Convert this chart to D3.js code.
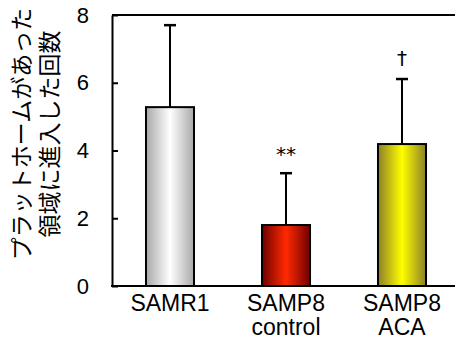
<!DOCTYPE html>
<html>
<head>
<meta charset="utf-8">
<script src="https://cdn.jsdelivr.net/npm/d3@7"></script>
<style>
  html, body { margin: 0; padding: 0; background: #fff; }
  svg { display: block; }
</style>
</head>
<body>
<div id="chart"></div>
<script>
// data
const groups = ['SAMR1', 'SAMP8 control', 'SAMP8 ACA'];
const groupLines = [['SAMR1'], ['SAMP8', 'control'], ['SAMP8', 'ACA']];
const means = [5.28, 1.80, 4.19];
const errors = [2.42, 1.53, 1.92];
const marks = ['', '**', '†'];
const yTicks = [0, 2, 4, 6, 8];
const titleLines = ['プラットホームがあった', '領域に進入した回数'];

const width = 455, height = 339;
const margin = { top: 15, right: -5, bottom: 53, left: 112 };

const svg = d3.select('#chart').append('svg')
  .attr('width', width)
  .attr('height', height);

// horizontal shading for each bar: [edge, centre]
const fills = [['#a8a8a8', '#ffffff'], ['#700000', '#ff2a00'], ['#8c8028', '#ffff00']];
const defs = svg.append('defs');
fills.forEach((f, i) => {
  const g = defs.append('linearGradient').attr('id', 'grad' + i)
    .attr('x1', '0%').attr('x2', '100%').attr('y1', '0%').attr('y2', '0%');
  g.append('stop').attr('offset', '0%').attr('stop-color', f[0]);
  g.append('stop').attr('offset', '50%').attr('stop-color', f[1]);
  g.append('stop').attr('offset', '100%').attr('stop-color', f[0]);
});

const x = d3.scaleBand()
  .domain(groups)
  .range([margin.left, width - margin.right])
  .paddingInner(0.586)
  .paddingOuter(0.293);

const y = d3.scaleLinear()
  .domain([0, 8])
  .range([height - margin.bottom, margin.top]);

const font = '"Liberation Sans", Arial, sans-serif';
const fontSize = 23;

// top frame line
svg.append('line')
  .attr('x1', margin.left).attr('x2', width)
  .attr('y1', y(8)).attr('y2', y(8))
  .attr('stroke', '#000').attr('stroke-width', 2);

// y axis with inward ticks
const yAxis = svg.append('g')
  .attr('transform', `translate(${margin.left},0)`)
  .call(d3.axisLeft(y).tickValues(yTicks).tickSizeInner(-6).tickSizeOuter(0).tickPadding(23));
yAxis.select('.domain').attr('stroke', '#000').attr('stroke-width', 2);
yAxis.selectAll('.tick line').attr('stroke', '#000').attr('stroke-width', 2);
yAxis.selectAll('.tick text')
  .attr('font-family', font).attr('font-size', 22).attr('fill', '#000');

// error bars
const errG = svg.append('g');
groups.forEach((g, i) => {
  const cx = x(g) + x.bandwidth() / 2;
  errG.append('line')
    .attr('x1', cx).attr('x2', cx)
    .attr('y1', y(means[i])).attr('y2', y(means[i] + errors[i]))
    .attr('stroke', '#000').attr('stroke-width', 2);
  errG.append('line')
    .attr('x1', cx - 6).attr('x2', cx + 6)
    .attr('y1', y(means[i] + errors[i])).attr('y2', y(means[i] + errors[i]))
    .attr('stroke', '#000').attr('stroke-width', 2.5);
});

// bars
svg.append('g').selectAll('rect')
  .data(groups)
  .join('rect')
  .attr('x', d => x(d))
  .attr('y', (d, i) => y(means[i]))
  .attr('width', x.bandwidth())
  .attr('height', (d, i) => y(0) - y(means[i]))
  .attr('fill', (d, i) => `url(#grad${i})`)
  .attr('stroke', '#000')
  .attr('stroke-width', 2);

// bottom axis line
svg.append('line')
  .attr('x1', margin.left - 1).attr('x2', width)
  .attr('y1', y(0)).attr('y2', y(0))
  .attr('stroke', '#000').attr('stroke-width', 2);

// significance marks
svg.append('g').selectAll('text')
  .data(groups)
  .join('text')
  .attr('x', d => x(d) + x.bandwidth() / 2)
  .attr('y', (d, i) => y(means[i] + errors[i]) - (marks[i] === '†' ? 14 : 12))
  .attr('text-anchor', 'middle')
  .attr('font-family', '"DejaVu Sans", sans-serif')
  .attr('font-size', 20)
  .attr('fill', '#000')
  .text((d, i) => marks[i]);

// category labels
groups.forEach((g, i) => {
  const cx = x(g) + x.bandwidth() / 2;
  const t = svg.append('text')
    .attr('y', y(0) + 25)
    .attr('text-anchor', 'middle')
    .attr('font-family', font)
    .attr('font-size', fontSize)
    .attr('fill', '#000');
  groupLines[i].forEach((line, j) => {
    t.append('tspan')
      .attr('x', cx)
      .attr('dy', j === 0 ? 0 : 24)
      .text(line);
  });
});

// y title, two lines rotated
const title = svg.append('text')
  .attr('transform', 'translate(0,134) rotate(-90)')
  .attr('text-anchor', 'middle')
  .attr('font-family', '"Noto Sans CJK JP", sans-serif')
  .attr('font-size', 23)
  .attr('fill', '#000');
titleLines.forEach((line, j) => {
  title.append('tspan')
    .attr('x', 0)
    .attr('y', 30 + j * 28)
    .text(line);
});
</script>
</body>
</html>
